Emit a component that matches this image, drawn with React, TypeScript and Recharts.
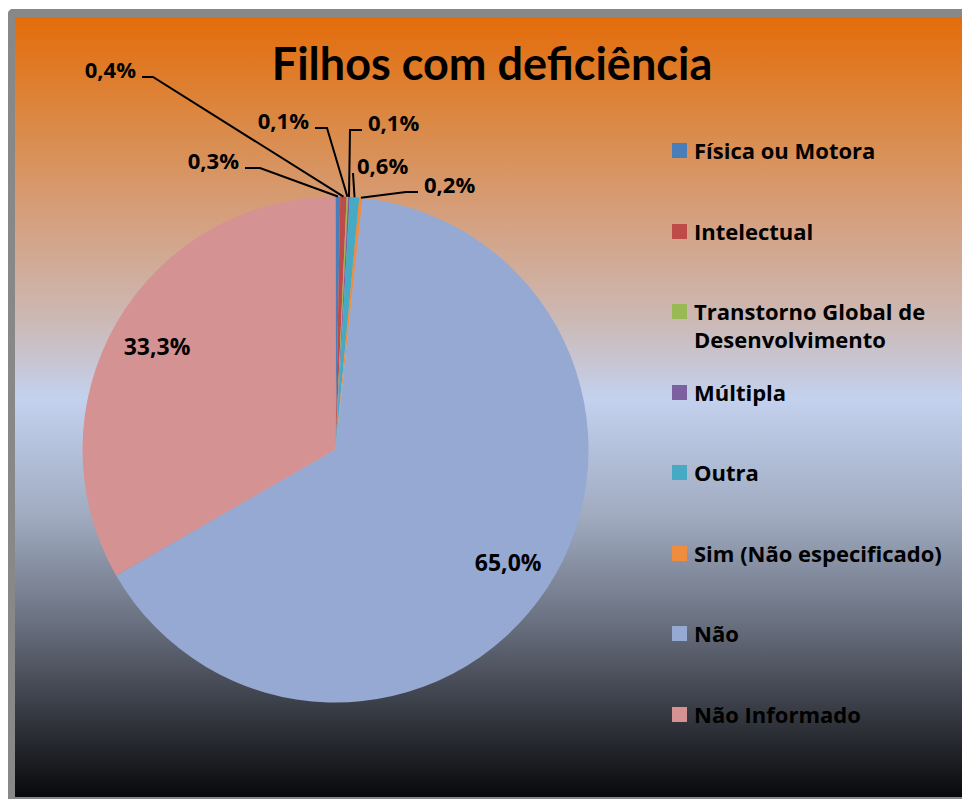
import { Cell, Legend, Pie, PieChart } from "recharts"

const categories = [
  "Física ou Motora",
  "Intelectual",
  "Transtorno Global de Desenvolvimento",
  "Múltipla",
  "Outra",
  "Sim (Não especificado)",
  "Não",
  "Não Informado",
]

// percentages as printed on the chart
const shares = [0.3, 0.4, 0.1, 0.1, 0.6, 0.2, 65.0, 33.3]

const COLORS = ["#4A7EBB", "#BE4B48", "#98B954", "#7D60A0", "#46AAC5", "#F08C3E", "#95A9D3", "#D59292"]

const data = categories.map((name, i) => ({ name, value: shares[i] }))

// leader line anchors for the tiny slices, relative to the pie centre
const LEADERS: Record<number, { ax: number; ay: number; side: "left" | "right"; elbow: number; gap: number }> = {
  0: { ax: -90.5, ay: -281.5, side: "left", elbow: 15, gap: 6 },
  1: { ax: -193.5, ay: -372.5, side: "left", elbow: 11, gap: 6 },
  2: { ax: -20.5, ay: -321.5, side: "left", elbow: 12, gap: 6 },
  3: { ax: 26.5, ay: -319.5, side: "right", elbow: 12, gap: 6 },
  4: { ax: 17.5, ay: -276.5, side: "right", elbow: 0, gap: 4 },
  5: { ax: 82.5, ay: -257.5, side: "right", elbow: 12, gap: 6 },
}

const TITLE_FONT = "Lato, 'Open Sans', sans-serif"
const FONT = "'Open Sans', Lato, sans-serif"
const RAD = Math.PI / 180
const W = 947
const H = 780
const CX = 320.5
const CY = 432.5
const R = 253

const fmt = (v: number) => v.toFixed(1).replace(".", ",") + "%"

const renderLabel = (props: any) => {
  const { cx, cy, midAngle, outerRadius, index, value } = props
  const text = fmt(value)
  const lead = LEADERS[index]
  if (!lead) {
    const r = outerRadius * 0.815
    const x = cx + r * Math.cos(-midAngle * RAD)
    const y = cy + r * Math.sin(-midAngle * RAD)
    return (
      <text x={x} y={y} textAnchor="middle" dominantBaseline="central" fontFamily={FONT} fontWeight={700} fontSize={23} fill="#000">
        {text}
      </text>
    )
  }
  const ex = cx + outerRadius * Math.cos(-midAngle * RAD)
  const ey = cy + outerRadius * Math.sin(-midAngle * RAD)
  const ax = cx + lead.ax
  const ay = cy + lead.ay
  const bx = lead.side === "left" ? ax + lead.elbow : ax - lead.elbow
  const tx = lead.side === "left" ? ax - lead.gap : ax + lead.gap
  return (
    <g>
      <polyline points={`${ex},${ey} ${bx},${ay} ${ax},${ay}`} fill="none" stroke="#000" strokeWidth={2} />
      <text x={tx} y={ay + 1} textAnchor={lead.side === "left" ? "end" : "start"} fontFamily={FONT} fontWeight={700} fontSize={22} fill="#000">
        {text}
      </text>
    </g>
  )
}

const renderLegend = (props: any) => {
  const payload = [...(props.payload || [])].sort(
    (a: any, b: any) => categories.indexOf(a.value) - categories.indexOf(b.value)
  )
  return (
    <div style={{ position: "relative", width: 285, height: 620, fontFamily: FONT }}>
      {payload.map((entry: any, i: number) => (
        <div key={`leg-${i}`} style={{ position: "absolute", left: 0, top: i * 80.5, display: "flex", alignItems: "flex-start" }}>
          <span style={{ flex: "0 0 15px", width: 15, height: 15, marginTop: 7, marginRight: 7, background: entry.color || COLORS[i] }} />
          <span style={{ fontSize: 22, lineHeight: "28px", fontWeight: 700, color: "#000", width: 262 }}>{entry.value}</span>
        </div>
      ))}
    </div>
  )
}

export default function App() {
  return (
    <>
      <style>{`body{margin:0;overflow:hidden}`}</style>
      <div
        style={{
          position: "absolute",
          left: 8,
          top: 9,
          width: 954,
          height: 790,
          boxSizing: "border-box",
          borderLeft: "7px solid #888",
          borderTop: "8px solid #888",
          borderBottom: "2px solid #888",
          borderTopLeftRadius: 5,
          background:
            "linear-gradient(to bottom, #E46C0A 0%, #DB8843 13%, #D5A07F 26%, #CCB9B5 39%, #C3D1EE 49%, #A0ABC0 64%, #6C7383 77%, #33363E 90%, #08090B 100%)",
        }}
      >
        <div
          style={{
            position: "absolute",
            left: 177,
            top: 24,
            width: 600,
            textAlign: "center",
            fontFamily: TITLE_FONT,
            fontWeight: 700,
            fontSize: 45,
            lineHeight: 1,
            color: "#000",
          }}
        >
          Filhos com deficiência
        </div>
        <PieChart
          width={W}
          height={H}
          margin={{ top: 0, right: 0, bottom: 0, left: 0 }}
          style={{ position: "absolute", left: 0, top: 0 }}
        >
          <Pie
            data={data}
            dataKey="value"
            nameKey="name"
            cx={CX}
            cy={CY}
            outerRadius={R}
            startAngle={90}
            endAngle={-270}
            stroke="none"
            label={renderLabel}
            labelLine={false}
            isAnimationActive={false}
          >
            {data.map((entry, index) => (
              <Cell key={`cell-${index}`} fill={COLORS[index % COLORS.length]} />
            ))}
          </Pie>
          <Legend
            layout="vertical"
            align="right"
            verticalAlign="top"
            content={renderLegend}
            wrapperStyle={{ left: 657, top: 119, width: 285 }}
          />
        </PieChart>
      </div>
    </>
  )
}
